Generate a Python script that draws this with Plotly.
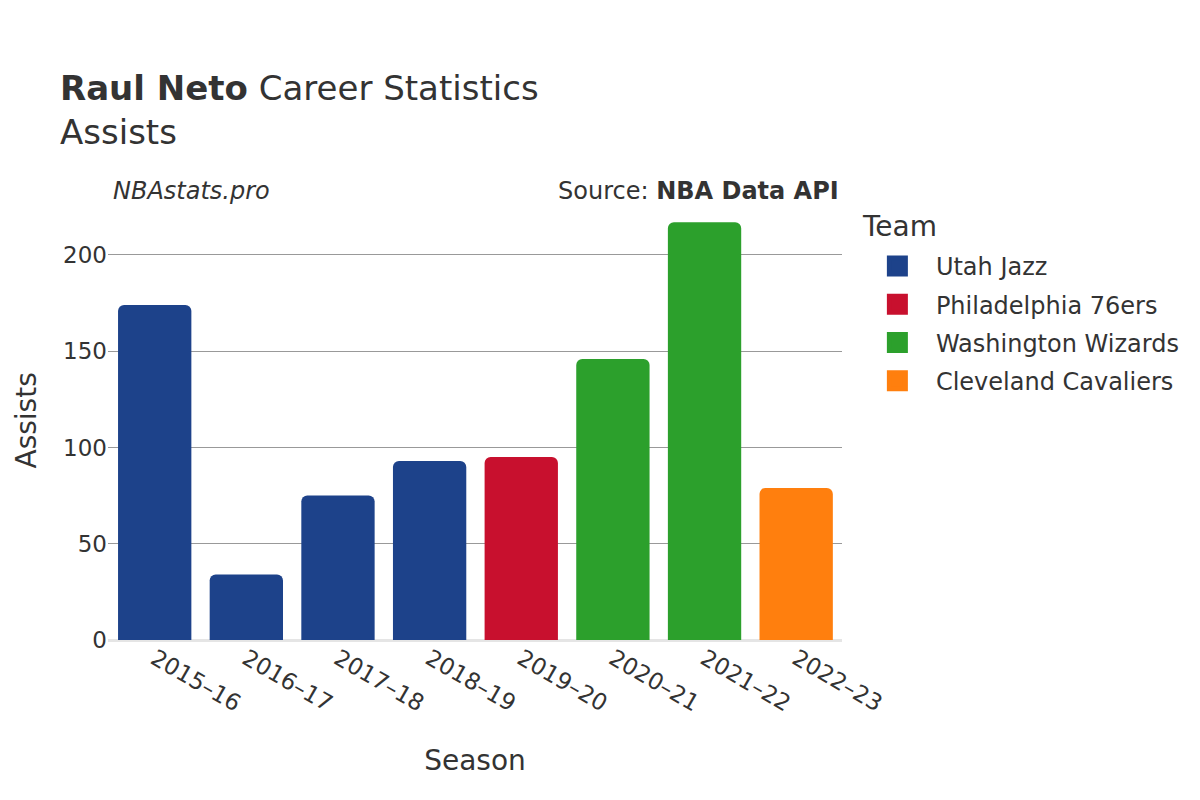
import plotly.graph_objects as go

seasons = ["2015–16", "2016–17", "2017–18", "2018–19", "2019–20", "2020–21", "2021–22", "2022–23"]
teams = ["Utah Jazz", "Utah Jazz", "Utah Jazz", "Utah Jazz", "Philadelphia 76ers",
         "Washington Wizards", "Washington Wizards", "Cleveland Cavaliers"]
assists = [174, 34, 75, 93, 95, 146, 217, 79]

team_order = ["Utah Jazz", "Philadelphia 76ers", "Washington Wizards", "Cleveland Cavaliers"]
team_colors = {
    "Utah Jazz": "#1d428a",
    "Philadelphia 76ers": "#c8102e",
    "Washington Wizards": "#2ca02c",
    "Cleveland Cavaliers": "#ff7f0e",
}

FONT = "DejaVu Sans"
fig = go.Figure()
for t in team_order:
    xs = [s for s, tt in zip(seasons, teams) if tt == t]
    ys = [v for v, tt in zip(assists, teams) if tt == t]
    fig.add_trace(go.Bar(x=xs, y=ys, name=t, marker_color=team_colors[t],
                         marker_line_width=0, legendgroup=t, showlegend=False))
    # legend entry with a larger square symbol
    fig.add_trace(go.Scatter(x=[seasons[0]], y=[None], mode="markers", name=t,
                             legendgroup=t, showlegend=True, hoverinfo="skip",
                             marker=dict(symbol="square", size=16, color=team_colors[t],
                                         line=dict(width=5, color=team_colors[t]))))

fig.update_layout(
    width=1200, height=800,
    barmode="overlay",
    barcornerradius=6,
    bargap=0.2,
    plot_bgcolor="white", paper_bgcolor="white",
    font=dict(family=FONT, color="#333333", size=23),
    margin=dict(l=100, r=366, t=193, b=168),
    title=dict(
        text="<b>Raul Neto</b> Career Statistics<br>Assists",
        x=52 / 1200, xanchor="left", y=0.885, yanchor="top",
        font=dict(size=34, family=FONT, color="#333333"),
    ),
    legend=dict(
        font=dict(size=24),
        x=1.023, xanchor="left", y=0.902, yanchor="top",
        itemsizing="trace", itemwidth=67, tracegroupgap=4,
    ),
    xaxis=dict(
        title=dict(text="Season", font=dict(size=28), standoff=34),
        automargin=False,
        categoryorder="array", categoryarray=seasons,
        tickangle=30, tickfont=dict(size=23),
        showgrid=False, showline=False, ticks="",
    ),
    yaxis=dict(
        automargin=False,
        tickfont=dict(size=23),
        showgrid=True, gridcolor="#999999", gridwidth=1,
        zeroline=True, zerolinecolor="#e5e5e5", zerolinewidth=3,
        dtick=50, range=[0, 228],
    ),
    annotations=[
        dict(text="<i>NBAstats.pro</i>", xref="paper", yref="paper",
             x=0.0045, y=1.0236, xanchor="left", yanchor="middle",
             showarrow=False, font=dict(size=24, family=FONT, color="#333333")),
        dict(text="Source: <b>NBA Data API</b>", xref="paper", yref="paper",
             x=0.999, y=1.0236, xanchor="right", yanchor="middle",
             showarrow=False, font=dict(size=24, family=FONT, color="#333333")),
        dict(text="Team", xref="paper", yref="paper",
             x=1.025, y=0.9408, xanchor="left", yanchor="middle",
             showarrow=False, font=dict(size=28, family=FONT, color="#333333")),
        dict(text="Assists", xref="paper", yref="paper",
             x=-0.1117, y=0.5, xanchor="center", yanchor="middle", textangle=-90,
             showarrow=False, font=dict(size=28, family=FONT, color="#333333")),
    ],
)

fig.write_html("out.html")
